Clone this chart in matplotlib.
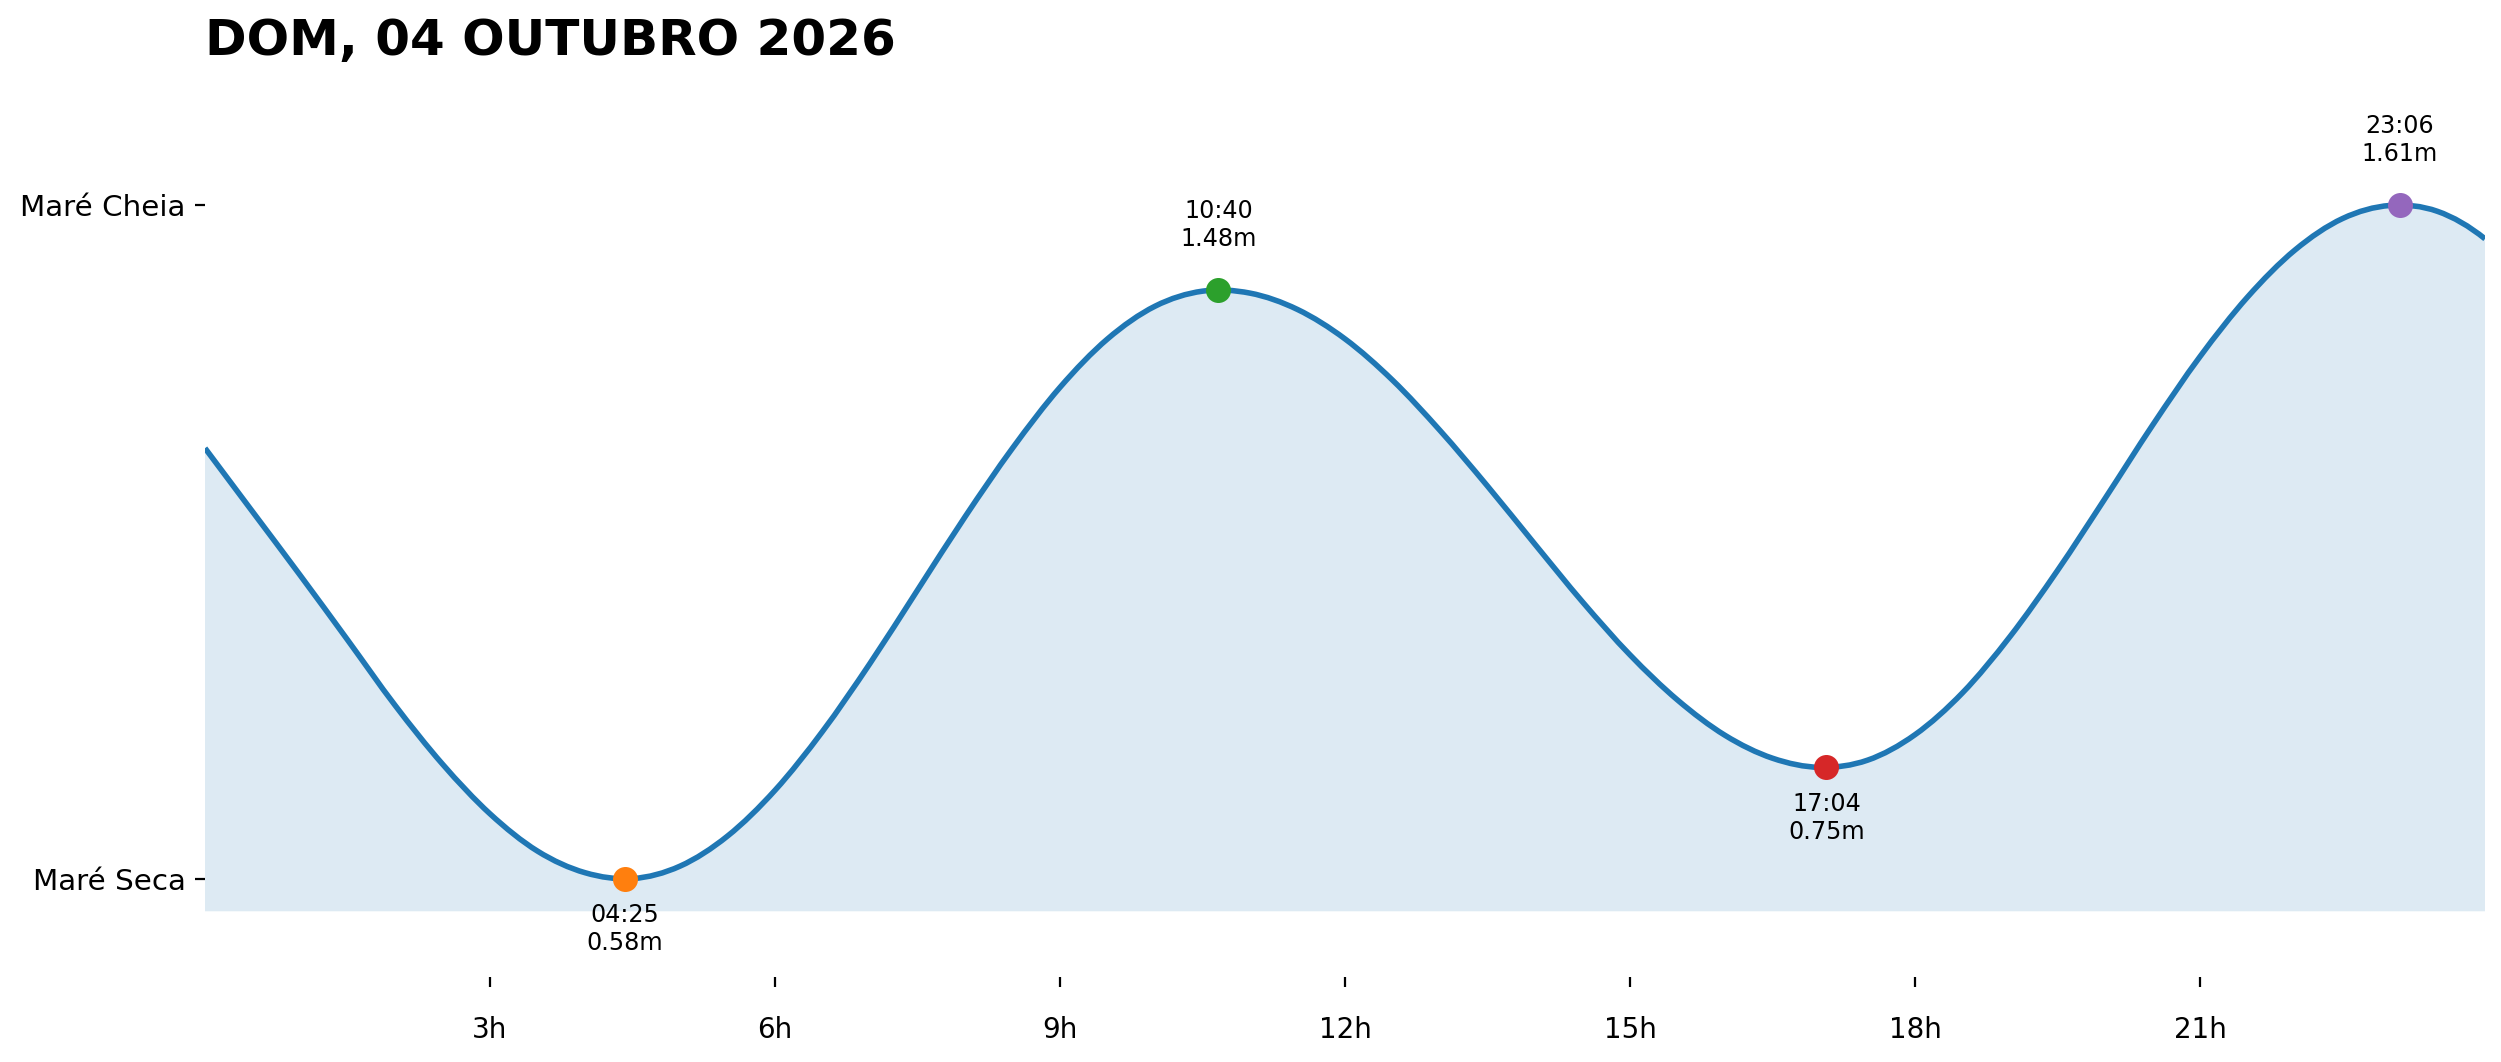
import matplotlib
matplotlib.use("Agg")
import matplotlib.pyplot as plt
from matplotlib.path import Path
from matplotlib.patches import PathPatch

# curve, every half hour (m)
hours = [0.0, 0.5, 1.0, 1.5, 2.0, 2.5, 3.0, 3.5, 4.0, 4.5, 5.0, 5.5,
         6.0, 6.5, 7.0, 7.5, 8.0, 8.5, 9.0, 9.5, 10.0, 10.5, 11.0, 11.5,
         12.0, 12.5, 13.0, 13.5, 14.0, 14.5, 15.0, 15.5, 16.0, 16.5, 17.0, 17.5,
         18.0, 18.5, 19.0, 19.5, 20.0, 20.5, 21.0, 21.5, 22.0, 22.5, 23.0, 23.5,
         24.0]
heights = [1.238, 1.141, 1.044, 0.945, 0.845, 0.755, 0.679, 0.622, 0.589, 0.580, 0.599, 0.645,
           0.715, 0.805, 0.909, 1.021, 1.133, 1.238, 1.331, 1.405, 1.455, 1.478, 1.475, 1.450,
           1.405, 1.342, 1.265, 1.180, 1.091, 1.003, 0.922, 0.853, 0.799, 0.764, 0.750, 0.761,
           0.800, 0.864, 0.950, 1.051, 1.161, 1.273, 1.378, 1.469, 1.541, 1.589, 1.609, 1.600,
           1.558]

# high / low tides of the day
tide_times = ["04:25", "10:40", "17:04", "23:06"]
tide_heights = [0.58, 1.48, 0.75, 1.61]
tide_kind = ["low", "high", "low", "high"]

title = "DOM, 04 OUTUBRO 2026"
xtick_hours = [3, 6, 9, 12, 15, 18, 21]
ytick_labels = ["Maré Seca", "Maré Cheia"]


def to_hours(hhmm):
  h, m = hhmm.split(":")
  return int(h) + int(m) / 60


def smooth_path(xs, ys):
  """Bezier path through the points (Catmull-Rom control points)."""
  n = len(xs)
  # extra point at each end so the end slopes follow the curve
  px = [2 * xs[0] - xs[1]] + list(xs) + [2 * xs[-1] - xs[-2]]
  py = ([3 * ys[0] - 3 * ys[1] + ys[2]] + list(ys)
        + [3 * ys[-1] - 3 * ys[-2] + ys[-3]])
  verts = [(xs[0], ys[0])]
  codes = [Path.MOVETO]
  for i in range(1, n):
    c1 = (px[i] + (px[i + 1] - px[i - 1]) / 6, py[i] + (py[i + 1] - py[i - 1]) / 6)
    c2 = (px[i + 1] - (px[i + 2] - px[i]) / 6, py[i + 1] - (py[i + 2] - py[i]) / 6)
    verts += [c1, c2, (px[i + 1], py[i + 1])]
    codes += [Path.CURVE4] * 3
  return verts, codes


tide_hours = [to_hours(t) for t in tide_times]
low = min(tide_heights)
high = max(tide_heights)
base = low - 0.05

fig = plt.figure(figsize=(2501 / 200, 1062 / 200), dpi=200)
ax = fig.add_axes([0.08197, 0.08032, 0.91164, 0.85])

verts, codes = smooth_path(hours, heights)

# filled area under the curve
fill_verts = [(hours[0], base)] + verts + [(hours[-1], base), (hours[0], base)]
fill_codes = [Path.MOVETO, Path.LINETO] + codes[1:] + [Path.LINETO, Path.CLOSEPOLY]
ax.add_patch(PathPatch(Path(fill_verts, fill_codes), facecolor="C0", alpha=0.15, linewidth=0))
ax.add_patch(PathPatch(Path(verts, codes), fill=False, edgecolor="C0", linewidth=2.0))

for i in range(len(tide_times)):
  ax.plot(tide_hours[i], tide_heights[i], "o", color=f"C{i + 1}", markersize=8, zorder=3)
  label = f"{tide_times[i]}\n{tide_heights[i]:.2f}m"
  if tide_kind[i] == "high":
    ax.annotate(label, (tide_hours[i], tide_heights[i]), xytext=(0, 14),
                textcoords="offset points", ha="center", va="bottom", fontsize=8.6)
  else:
    ax.annotate(label, (tide_hours[i], tide_heights[i]), xytext=(0, -8.8),
                textcoords="offset points", ha="center", va="top", fontsize=8.6)

ax.set_xlim(0, 24)
ax.set_ylim(low - 0.15, high + 0.2)
ax.set_xticks(xtick_hours)
ax.set_xticklabels([f"{h}h" for h in xtick_hours])
ax.set_yticks([low, high])
ax.set_yticklabels(ytick_labels)
ax.tick_params(axis="x", pad=10.5, labelsize=10)
ax.tick_params(axis="y", labelsize=10.6)
for s in ax.spines.values():
  s.set_visible(False)

ax.set_title(title, loc="left", fontsize=18, fontweight="bold", pad=6.8)

fig.savefig("out.png", dpi=200)
